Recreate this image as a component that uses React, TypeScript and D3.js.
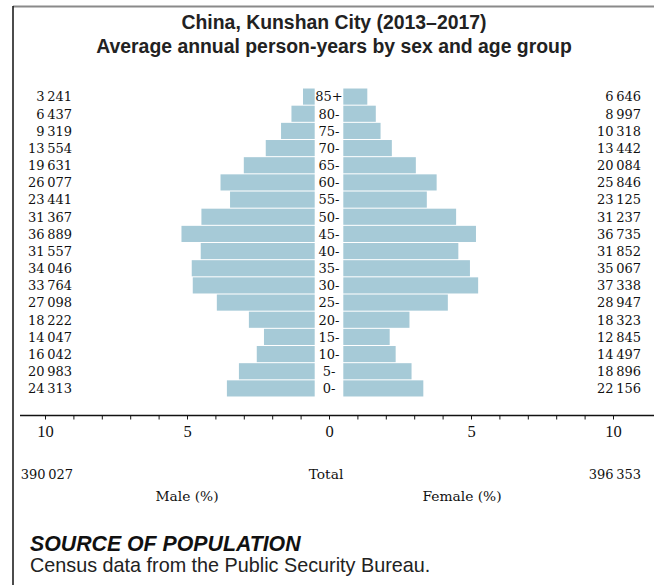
import React, { useEffect, useRef } from "react";
import * as d3 from "d3";

const ageGroups = ["85+", "80-", "75-", "70-", "65-", "60-", "55-", "50-", "45-", "40-", "35-", "30-", "25-", "20-", "15-", "10-", "5-", "0-"];
const maleCounts = [3241, 6437, 9319, 13554, 19631, 26077, 23441, 31367, 36889, 31557, 34046, 33764, 27098, 18222, 14047, 16042, 20983, 24313];
const femaleCounts = [6646, 8997, 10318, 13442, 20084, 25846, 23125, 31237, 36735, 31852, 35067, 37338, 28947, 18323, 12845, 14497, 18896, 22156];
const maleTotal = 390027;
const femaleTotal = 396353;
const axisTicks = [-10, -9, -8, -7, -6, -5, -4, -3, -2, -1, 0, 1, 2, 3, 4, 5, 6, 7, 8, 9, 10];
const axisLabelTicks = [-10, -5, 0, 5, 10];

const W = 654;
const H = 585;
const SERIF = "'DejaVu Serif', 'Liberation Serif', serif";
const TICKSERIF = "'Liberation Serif', serif";
const SANS = "'Liberation Sans', Arial, sans-serif";
const BAR = "#a6cad7";
const FS_ROW = 13;
const FS = 13.8;

const fmt = (v: number) => d3.format(",")(v).replace(/,/g, "\u2009");

export default function App() {
  const axisRef = useRef<SVGGElement>(null);

  const grand = maleTotal + femaleTotal;
  const center = 329;
  const gap = 14.3;
  const unit = 28.4;
  const len = d3.scaleLinear().domain([0, 10]).range([0, unit * 10]);
  const axisX = d3.scaleLinear().domain([-10, 10]).range([center - unit * 10, center + unit * 10]);
  const y = d3.scaleBand<string>().domain(ageGroups).range([88, 397]).paddingInner(0.06).paddingOuter(0.03);

  useEffect(() => {
    if (!axisRef.current) return;
    const g = d3.select(axisRef.current);
    g.selectAll("*").remove();
    const axis = d3
      .axisBottom(axisX)
      .tickValues(axisTicks)
      .tickSize(4)
      .tickPadding(6)
      .tickFormat((d) => (axisLabelTicks.includes(+d) ? String(Math.abs(+d)) : ""));
    g.call(axis as any);
    g.select(".domain").remove();
    g.selectAll(".tick line").attr("stroke", "#111").attr("stroke-width", 1);
    g.selectAll(".tick text")
      .attr("font-family", TICKSERIF)
      .attr("font-size", 16.5)
      .attr("fill", "#111");
  }, []);

  const pct = (v: number) => (v / grand) * 100;

  return (
    <svg width={W} height={H} style={{ position: "absolute", left: 0, top: 0, background: "#fff" }}>
      {/* frame */}
      <rect x={13} y={5.5} width={W - 13} height={2} fill="#8a8a8a" />
      <line x1={13} y1={6} x2={13} y2={H} stroke="#111" strokeWidth={1.5} />

      {/* title */}
      <text x={334} y={29} textAnchor="middle" fontFamily={SANS} fontWeight="bold" fontSize={19.4} fill="#222">
        China, Kunshan City (2013–2017)
      </text>
      <text x={334} y={53} textAnchor="middle" fontFamily={SANS} fontWeight="bold" fontSize={19.4} fill="#222">
        Average annual person-years by sex and age group
      </text>

      {/* bars */}
      {ageGroups.map((a, i) => {
        const yy = y(a)!;
        const bw = y.bandwidth();
        const mw = len(pct(maleCounts[i]));
        const fw = len(pct(femaleCounts[i]));
        return (
          <g key={a}>
            <rect x={center - gap - mw} y={yy} width={mw} height={bw} fill={BAR} />
            <rect x={center + gap} y={yy} width={fw} height={bw} fill={BAR} />
            <text x={center} y={yy + bw / 2} dy="0.37em" textAnchor="middle" fontFamily={SERIF} fontSize={FS_ROW} fill="#111">
              {a}
            </text>
            <text x={72} y={yy + bw / 2} dy="0.37em" textAnchor="end" fontFamily={SERIF} fontSize={FS_ROW} fill="#111">
              {fmt(maleCounts[i])}
            </text>
            <text x={641} y={yy + bw / 2} dy="0.37em" textAnchor="end" fontFamily={SERIF} fontSize={FS_ROW} fill="#111">
              {fmt(femaleCounts[i])}
            </text>
          </g>
        );
      })}

      {/* axis */}
      <line x1={20} y1={415.5} x2={W} y2={415.5} stroke="#111" strokeWidth={1.3} />
      <g ref={axisRef} transform="translate(0,415.5)" />

      {/* totals */}
      <text x={73} y={479} textAnchor="end" fontFamily={SERIF} fontSize={FS_ROW} fill="#111">
        {fmt(maleTotal)}
      </text>
      <text x={326} y={479} textAnchor="middle" fontFamily={SERIF} fontSize={FS} fill="#111">
        Total
      </text>
      <text x={641} y={479} textAnchor="end" fontFamily={SERIF} fontSize={FS_ROW} fill="#111">
        {fmt(femaleTotal)}
      </text>
      <text x={187} y={501} textAnchor="middle" fontFamily={SERIF} fontSize={FS} fill="#111">
        Male (%)
      </text>
      <text x={462} y={501} textAnchor="middle" fontFamily={SERIF} fontSize={FS} fill="#111">
        Female (%)
      </text>

      {/* source */}
      <text x={30} y={551} fontFamily={SANS} fontWeight="bold" fontStyle="italic" fontSize={21.3} fill="#111">
        SOURCE OF POPULATION
      </text>
      <text x={30} y={572} fontFamily={SANS} fontSize={19.8} fill="#222">
        Census data from the Public Security Bureau.
      </text>
    </svg>
  );
}
